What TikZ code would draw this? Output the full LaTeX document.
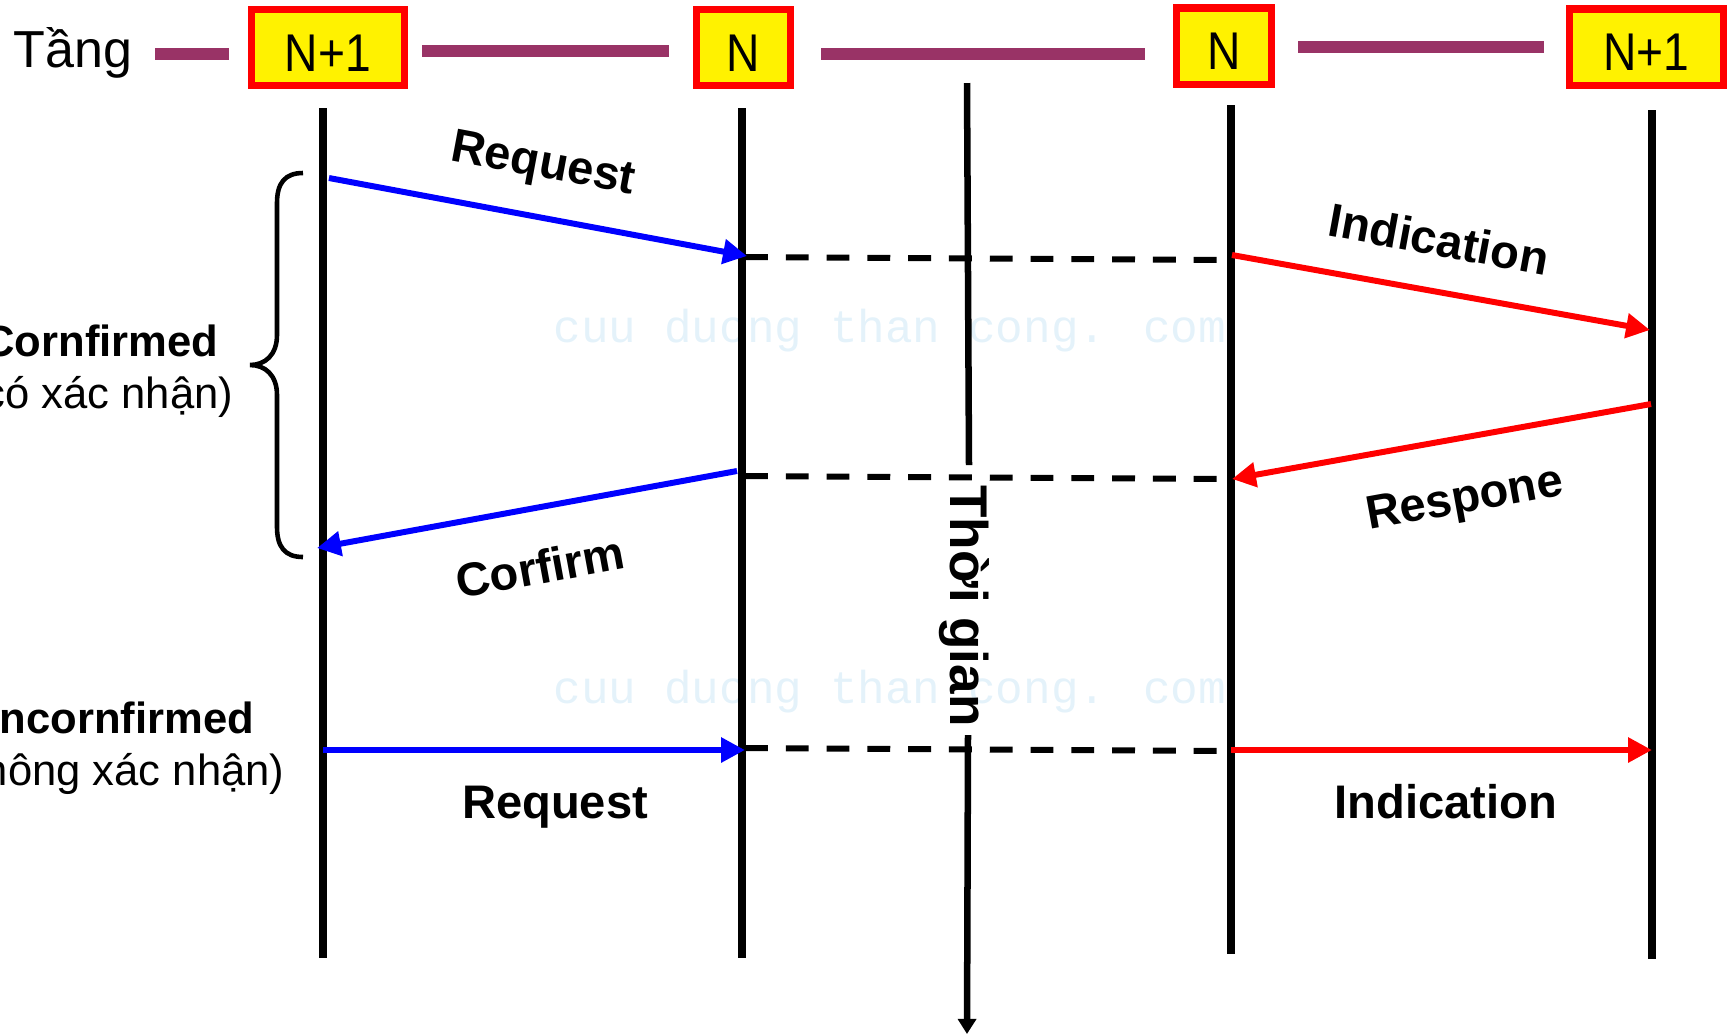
\documentclass[tikz,border=0pt]{standalone}
\usepackage{fontspec}
\setmainfont{Liberation Sans}
\newfontfamily\wmfont{Liberation Mono}
\usetikzlibrary{arrows.meta}
\definecolor{layerpurple}{RGB}{153,51,102}
\definecolor{wmblue}{RGB}{228,242,250}
\begin{document}
\begin{tikzpicture}[x=0.01cm,y=-0.01cm,
  lifeline/.style={line width=2.3pt},
  msg/.style={line width=1.7pt,-{Triangle[length=6.8pt,width=6.8pt]}},
  dashline/.style={line width=1.7pt,dash pattern=on 6.5pt off 5.1pt},
  layerline/.style={draw=layerpurple,line width=3.4pt},
  layerbox/.style={draw=red,fill=yellow,line width=2pt,inner sep=0pt,minimum height=0.76cm,
    text height=0.5cm,text depth=0.03cm,font=\fontsize{15.1}{18}\selectfont},
  lbl/.style={font=\fontsize{13.4}{16}\selectfont\bfseries},
  side/.style={font=\fontsize{12.4}{15}\selectfont,anchor=base},
  wm/.style={text=wmblue,font=\wmfont\fontsize{13.1}{16}\selectfont},
  axis/.style={line width=1.85pt}
]
\useasboundingbox (0,0) rectangle (1727,1035);
\clip (0,0) rectangle (1727,1035);

% watermark
\node[wm] (wm1) at (890,331) {cuu duong than cong. com};
\node[wm] (wm2) at (890,692) {cuu duong than cong. com};

% header
\node[anchor=base west,inner sep=0pt,font=\fontsize{14.8}{18}\selectfont] (tang) at (13,67) {Tầng};
\node[layerbox,minimum width=1.53cm] (b1) at (328,47.5) {\scalebox{0.87}[1]{N+1}};
\node[layerbox,minimum width=0.94cm] (b2) at (743.5,47.5) {\scalebox{0.87}[1]{N}};
\node[layerbox,minimum width=0.95cm] (b3) at (1224,46) {\scalebox{0.87}[1]{N}};
\node[layerbox,minimum width=1.54cm] (b4) at (1646.5,47) {\scalebox{0.87}[1]{N+1}};

\coordinate (p0a) at (155,54);  \coordinate (p0b) at (229,54);
\coordinate (p1a) at (422,51);  \coordinate (p1b) at (669,51);
\coordinate (p2a) at (821,54);  \coordinate (p2b) at (1145,54);
\coordinate (p3a) at (1298,47); \coordinate (p3b) at (1544,47);
\draw[layerline] (p0a) -- (p0b);
\draw[layerline] (p1a) -- (p1b);
\draw[layerline] (p2a) -- (p2b);
\draw[layerline] (p3a) -- (p3b);

% lifelines
\coordinate (l1t) at (323,108);  \coordinate (l1b) at (323,958);
\coordinate (l2t) at (742,108);  \coordinate (l2b) at (742,958);
\coordinate (l3t) at (1231,105); \coordinate (l3b) at (1231,954);
\coordinate (l4t) at (1652,110); \coordinate (l4b) at (1652,959);
\draw[lifeline] (l1t) -- (l1b);
\draw[lifeline] (l2t) -- (l2b);
\draw[lifeline] (l3t) -- (l3b);
\draw[lifeline] (l4t) -- (l4b);

% time axis
\coordinate (tt) at (967,83);
\coordinate (tm1) at (969,465);
\coordinate (tm2) at (968,735);
\coordinate (tb) at (967,1034);
\draw[axis] (tt) -- (tm1);
\draw[axis,-{Triangle[length=4.3pt,width=5.1pt]}] (tm2) -- (tb);
\node[font=\fontsize{15.1}{18}\selectfont\bfseries,rotate=-90,anchor=base] (time) at (950,606) {Thời gian};

% dashed lines
\coordinate (d1a) at (745,257); \coordinate (d1b) at (1231,260);
\coordinate (d2a) at (745,476); \coordinate (d2b) at (1231,479);
\coordinate (d3a) at (745,748); \coordinate (d3b) at (1231,751);
\draw[dashline] (d1a) -- (d1b);
\draw[dashline] (d2a) -- (d2b);
\draw[dashline] (d3a) -- (d3b);

% messages
\coordinate (r1s) at (329,178);  \coordinate (r1e) at (747,256);
\coordinate (i1s) at (1232,255); \coordinate (i1e) at (1650,330);
\coordinate (rps) at (1651,404); \coordinate (rpe) at (1232,479);
\coordinate (cfs) at (737,471);  \coordinate (cfe) at (317,548);
\coordinate (r2s) at (323,750);  \coordinate (r2e) at (745,750);
\coordinate (i2s) at (1231,750); \coordinate (i2e) at (1652,750);
\draw[msg,blue] (r1s) -- (r1e);
\draw[msg,red] (i1s) -- (i1e);
\draw[msg,red] (rps) -- (rpe);
\draw[msg,blue] (cfs) -- (cfe);
\draw[msg,blue] (r2s) -- (r2e);
\draw[msg,red] (i2s) -- (i2e);

% message labels
\node[lbl,rotate=-10.6] (lr1) at (543,166) {Request};
\node[lbl,rotate=-10.4] (li1) at (1439,239) {Indication};
\node[lbl,rotate=10.3] (lrp) at (1465,501) {Respone};
\node[lbl,rotate=10.4] (lcf) at (540,567) {Corfirm};
\node[lbl,anchor=base] (lr2) at (555,818) {Request};
\node[lbl,anchor=base] (li2) at (1446,818) {Indication};

% brace
\draw[line width=1.3pt] (303,173) .. controls (285,173) and (277,183) .. (277,203)
  -- (277,335) .. controls (277,355) and (265,365) .. (250,365)
  .. controls (265,365) and (277,375) .. (277,395)
  -- (277,527) .. controls (277,547) and (285,557) .. (303,557);

% side texts
\node[side,font=\fontsize{12.4}{15}\selectfont\bfseries] (c1) at (101,356) {Cornfirmed};
\node[side] (c2) at (101,408) {(có xác nhận)};
\node[side,font=\fontsize{12.4}{15}\selectfont\bfseries] (u1) at (111,733) {Uncornfirmed};
\node[side] (u2) at (116,785) {(không xác nhận)};
\end{tikzpicture}
\end{document}
